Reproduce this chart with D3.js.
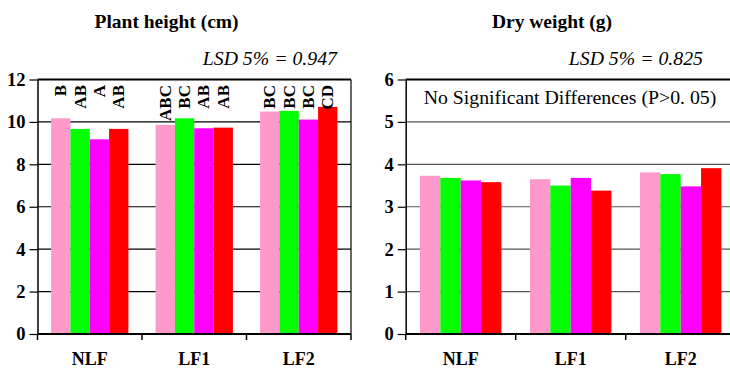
<!DOCTYPE html>
<html>
<head>
<meta charset="utf-8">
<script src="https://cdnjs.cloudflare.com/ajax/libs/d3/7.8.5/d3.min.js"></script>
<style>
  body { margin: 0; background: #fff; }
  svg text { font-family: "Liberation Serif", "Times New Roman", serif !important; }
</style>
</head>
<body>
<div id="chart"></div>
<script>
// groups along the x axis and the four treatments inside each group
const groups = ["NLF", "LF1", "LF2"];
const treatments = ["T1", "T2", "T3", "T4"];
const colors = ["#ff99cc", "#00ff00", "#ff00ff", "#ff0000"];

// plant height (cm), one row per group
const heightValues = [
    [10.17, 9.67, 9.18, 9.67],
    [9.86, 10.17, 9.70, 9.73],
    [10.49, 10.52, 10.11, 10.71]
];
const heightLetters = [
    ["B", "AB", "A", "AB"],
    ["ABC", "BC", "AB", "AB"],
    ["BC", "BC", "BC", "CD"]
];
const heightTicks = [0, 2, 4, 6, 8, 10, 12];

// dry weight (g)
const weightValues = [
    [3.73, 3.68, 3.62, 3.58],
    [3.65, 3.50, 3.68, 3.38],
    [3.81, 3.77, 3.48, 3.91]
];
const weightTicks = [0, 1, 2, 3, 4, 5, 6];

const svg = d3.select("#chart").append("svg")
    .attr("width", 730)
    .attr("height", 369);

/**
 * Draws one panel of grouped bars.
 */
function drawPanel(opts) {
    let g = svg.append("g");
    let top = 79.5, bottom = 334;

    let x = d3.scaleBand()
        .domain(groups)
        .range([opts.left, opts.right]);

    // bars take ~74% of the band, centred
    let pad = x.bandwidth() * 0.13;
    let xInner = d3.scaleBand()
        .domain(treatments)
        .range([pad, x.bandwidth() - pad]);

    let y = d3.scaleLinear()
        .domain([0, d3.max(opts.ticks)])
        .range([bottom, top]);

    // gridlines
    g.selectAll(".grid").data(opts.ticks.filter(t => t > 0 && t < d3.max(opts.ticks)))
        .enter().append("line")
        .attr("x1", opts.left).attr("x2", opts.right)
        .attr("y1", d => y(d)).attr("y2", d => y(d))
        .attr("stroke", opts.gridColor).attr("stroke-width", 1.2);

    // frame top and right
    g.append("line")
        .attr("x1", opts.left).attr("x2", opts.right)
        .attr("y1", top).attr("y2", top)
        .attr("stroke", "#000").attr("stroke-width", 1.8);
    g.append("line")
        .attr("x1", opts.right).attr("x2", opts.right)
        .attr("y1", top).attr("y2", bottom)
        .attr("stroke", "#000").attr("stroke-width", 1.2);

    // bars
    let rows = g.selectAll(".grp").data(opts.values)
        .enter().append("g")
        .attr("transform", (d, i) => "translate(" + x(groups[i]) + ",0)");

    rows.selectAll("rect").data(d => d)
        .enter().append("rect")
        .attr("x", (d, j) => xInner(treatments[j]))
        .attr("width", xInner.bandwidth())
        .attr("y", d => y(d))
        .attr("height", d => bottom - y(d))
        .attr("fill", (d, j) => colors[j]);

    // significance letters
    if (opts.letters) {
        rows.selectAll(".letter").data((d, i) => opts.letters[i])
            .enter().append("text")
            .attr("class", "letter")
            .attr("transform", (d, j) => "translate(" + (xInner(treatments[j]) + xInner.bandwidth() / 2) + ",85) rotate(-90)")
            .attr("text-anchor", "end")
            .attr("dominant-baseline", "central")
            .attr("font-size", 17)
            .attr("font-weight", "bold")
            .text(d => d);
    }

    // y axis
    let yAxis = d3.axisLeft(y).tickValues(opts.ticks).tickFormat(d3.format("d"))
        .tickSize(8).tickPadding(4).tickSizeOuter(0);
    let ya = g.append("g").attr("transform", "translate(" + opts.left + ",0)").call(yAxis);
    ya.select(".domain").attr("stroke-width", 1.5);
    ya.selectAll(".tick line").attr("stroke-width", 1.2);
    ya.selectAll("text")
        .style("font-size", "18.5px")
        .style("font-weight", "bold")
        .attr("fill", "#000");

    // x axis: ticks between the groups
    let sep = groups.map(c => x(c)).concat([opts.right]);
    g.selectAll(".sep").data(sep).enter().append("line")
        .attr("x1", d => d).attr("x2", d => d)
        .attr("y1", bottom).attr("y2", bottom + 6)
        .attr("stroke", "#000").attr("stroke-width", 1.5);
    g.append("line")
        .attr("x1", opts.left).attr("x2", opts.right)
        .attr("y1", bottom).attr("y2", bottom)
        .attr("stroke", "#000").attr("stroke-width", 2);
    g.selectAll(".cat").data(groups).enter().append("text")
        .attr("x", d => x(d) + x.bandwidth() / 2)
        .attr("y", 365)
        .attr("text-anchor", "middle")
        .attr("font-size", 18)
        .attr("font-weight", "bold")
        .text(d => d);

    // title and LSD
    g.append("text")
        .attr("x", opts.titleX).attr("y", 28)
        .attr("text-anchor", "middle")
        .attr("font-size", 19.5)
        .attr("font-weight", "bold")
        .text(opts.title);
    g.append("text")
        .attr("x", opts.lsdX).attr("y", 65)
        .attr("text-anchor", "end")
        .attr("font-size", 19.8)
        .attr("font-style", "italic")
        .text(opts.lsd);

    if (opts.note) {
        g.append("text")
            .attr("x", 570).attr("y", 104)
            .attr("text-anchor", "middle")
            .attr("font-size", 19.8)
            .text(opts.note);
    }
}

drawPanel({
    left: 37.5, right: 351,
    values: heightValues, letters: heightLetters, ticks: heightTicks,
    gridColor: "#000",
    title: "Plant height (cm)", titleX: 166.5,
    lsd: "LSD 5% = 0.947", lsdX: 337
});

drawPanel({
    left: 405.7, right: 735.7,
    values: weightValues, ticks: weightTicks,
    gridColor: "#555",
    title: "Dry weight (g)", titleX: 552,
    lsd: "LSD 5% = 0.825", lsdX: 703,
    note: "No Significant Differences (P>0. 05)"
});
</script>
</body>
</html>
